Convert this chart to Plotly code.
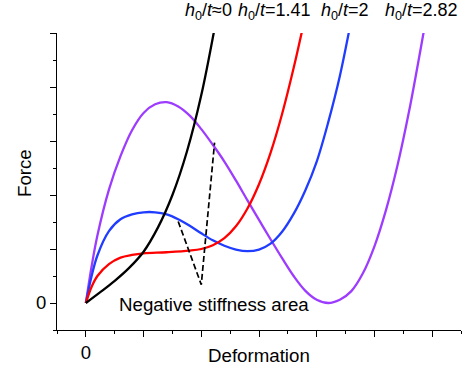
import plotly.graph_objects as go

# ---- data ----
black_x = [0, 0.25, 0.5, 0.75, 1.0, 1.25, 1.5, 1.75, 2.0, 2.25]
black_y = [0, 0.2, 0.41, 0.65, 0.95, 1.4, 2.0, 2.8, 3.85, 5.2]

red_x = [0, 0.1, 0.2, 0.4, 0.6, 0.8, 1.0, 1.4, 1.8, 2.0, 2.2, 2.4, 2.6, 2.8, 3.0, 3.2, 3.4, 3.6, 3.8]
red_y = [0, 0.3, 0.5, 0.72, 0.84, 0.89, 0.92, 0.94, 0.97, 1.0, 1.07, 1.2, 1.42, 1.75, 2.2, 2.78, 3.5,
         4.35, 5.3]

blue_x = [0, 0.1, 0.2, 0.4, 0.6, 0.8, 1.0, 1.2, 1.4, 1.6, 1.8, 2.0, 2.2, 2.4, 2.6, 2.8, 3.0, 3.2,
          3.4, 3.6, 3.8, 4.0, 4.2, 4.4, 4.6]
blue_y = [0, 0.5, 0.88, 1.33, 1.55, 1.64, 1.68, 1.68, 1.64, 1.55, 1.43, 1.29, 1.16, 1.06, 0.99, 0.96,
          0.99, 1.1, 1.32, 1.65, 2.08, 2.62, 3.35, 4.2, 5.25]

purple_x = [0, 0.1, 0.2, 0.4, 0.6, 0.8, 1.0, 1.2, 1.4, 1.6, 1.8, 2.0, 2.2, 2.4, 2.6, 2.8, 3.0, 3.2,
            3.4, 3.6, 3.8, 4.0, 4.2, 4.4, 4.6, 4.8, 5.0, 5.2, 5.4, 5.6, 5.8, 5.9]
purple_y = [0, 0.68, 1.25, 2.1, 2.72, 3.2, 3.52, 3.68, 3.72, 3.64, 3.47, 3.22, 2.93, 2.62, 2.27, 1.9,
            1.54, 1.18, 0.83, 0.5, 0.23, 0.06, 0.0, 0.06, 0.22, 0.55, 1.05, 1.72, 2.55, 3.55, 4.7, 5.3]

dash_x = [1.60, 2.00, 2.23]
dash_y = [1.51, 0.34, 2.97]

labels = ["<i>h</i><sub>0</sub>/<i>t</i>≈0", "<i>h</i><sub>0</sub>/<i>t</i>=1.41",
          "<i>h</i><sub>0</sub>/<i>t</i>=2", "<i>h</i><sub>0</sub>/<i>t</i>=2.82"]
label_px = [208.5, 274.5, 345, 421.5]

x_major = [1, 2, 3, 4, 5, 6]
x_minor = [-0.5, 0.5, 1.5, 2.5, 3.5, 4.5, 5.5, 6.5]
y_major = [1, 2, 3, 4, 5]
y_minor = [-0.5, 0.5, 1.5, 2.5, 3.5, 4.5]

FONT = "Liberation Sans, Arial, sans-serif"
W, H = 465, 371
ML, MR, MT, MB = 57, 4, 33, 41
PW, PH = W - ML - MR, H - MT - MB
XR, YR = [-0.5, 6.5], [-0.5, 5]

fig = go.Figure()
# invisible trace so that the overlay axes (half-step ticks) are drawn
fig.add_trace(go.Scatter(x=[None], y=[None], xaxis="x2", yaxis="y2", mode="lines",
                         showlegend=False, hoverinfo="skip"))
for xs, ys, col in [(purple_x, purple_y, "#9d3cff"), (blue_x, blue_y, "#1f3cff"),
                    (red_x, red_y, "#ff0000"), (black_x, black_y, "#000000")]:
    fig.add_trace(go.Scatter(x=xs, y=ys, mode="lines", line=dict(color=col, width=2.3, shape="spline"),
                             showlegend=False, hoverinfo="skip"))
fig.add_trace(go.Scatter(x=dash_x, y=dash_y, mode="lines",
                         line=dict(color="black", width=1.7, dash="6px,3px"),
                         showlegend=False, hoverinfo="skip"))

tick_font = dict(family=FONT, size=18.5, color="black")
common = dict(showgrid=False, zeroline=False, fixedrange=True, tickcolor="black", tickwidth=1.2,
              ticks="outside")

fig.update_layout(
    xaxis=dict(range=XR, showline=True, linecolor="black", linewidth=1.2, ticklen=6,
               tickmode="array", tickvals=[0], ticktext=["0"], tickfont=tick_font,
               minor=dict(tickmode="array", tickvals=x_major, ticks="outside", ticklen=6,
                          tickwidth=1.2, tickcolor="black", showgrid=False), **common),
    yaxis=dict(range=YR, showline=True, linecolor="black", linewidth=1.2, ticklen=6,
               tickmode="array", tickvals=[0], ticktext=["0"], tickfont=tick_font,
               minor=dict(tickmode="array", tickvals=y_major, ticks="outside", ticklen=6,
                          tickwidth=1.2, tickcolor="black", showgrid=False), **common),
    xaxis2=dict(range=XR, overlaying="x", anchor="y2", side="bottom", showline=False,
                showticklabels=False, ticklen=3, tickmode="array", tickvals=x_minor, **common),
    yaxis2=dict(range=YR, overlaying="y", anchor="x2", side="left", showline=False,
                showticklabels=False, ticklen=3, tickmode="array", tickvals=y_minor, **common),
)

def px2paper(px, py):
    return (px - ML) / PW, (H - MB - py) / PH

ann = []
for txt, px in zip(labels, label_px):
    x, y = px2paper(px, 12)
    ann.append(dict(text=txt, x=x, y=y, xref="paper", yref="paper", showarrow=False,
                    xanchor="center", yanchor="middle", font=dict(family=FONT, size=18, color="black")))
x, y = px2paper(24, 173)
ann.append(dict(text="Force", x=x, y=y, xref="paper", yref="paper", showarrow=False, textangle=-90,
                xanchor="center", yanchor="middle", font=dict(family=FONT, size=18.7, color="black")))
x, y = px2paper(259.3, 355)
ann.append(dict(text="Deformation", x=x, y=y, xref="paper", yref="paper", showarrow=False,
                xanchor="center", yanchor="middle", font=dict(family=FONT, size=18.7, color="black")))
x, y = px2paper(214, 304)
ann.append(dict(text="Negative stiffness area", x=x, y=y, xref="paper", yref="paper", showarrow=False,
                xanchor="center", yanchor="middle", font=dict(family=FONT, size=18.7, color="black")))

fig.update_layout(width=W, height=H, margin=dict(l=ML, r=MR, t=MT, b=MB, autoexpand=False),
                  plot_bgcolor="white", paper_bgcolor="white", annotations=ann,
                  font=dict(family=FONT, size=18, color="black"))

fig.write_html("out.html", config={"displayModeBar": False})
